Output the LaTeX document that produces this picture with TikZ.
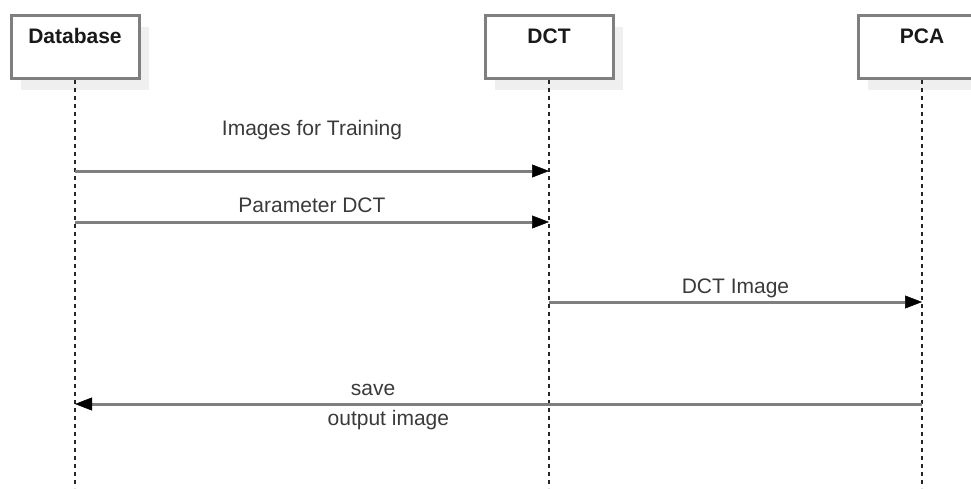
\documentclass[tikz,border=0pt]{standalone}
\usepackage{fontspec}
\setmainfont{Liberation Sans}
\usepackage{tikz}
\usetikzlibrary{arrows.meta,positioning,shadows}
\usepackage{xcolor}
\definecolor{seqline}{HTML}{7F7F7F}
\definecolor{seqshade}{HTML}{EFEFEF}
\definecolor{seqtext}{HTML}{3A3A3A}
\tikzset{
    seqbox/.style={draw=seqline, line width=3pt, fill=white, font=\fontsize{21}{25}\selectfont\bfseries, text=black!90,
        minimum width=128pt, text height=22pt, text depth=30pt, inner xsep=4pt, inner ysep=5.5pt,
        shadow xshift=10pt, shadow yshift=-11pt, general shadow={fill=seqshade, draw=none}},
    seqlife/.style={line width=2pt, color=black!85, dash pattern=on 4pt off 4pt},
    seqarrow/.style={-{Triangle[length=17pt, width=13pt, line width=0.5pt, black]}, line width=3pt, seqline},
    seqnote/.style={font=\fontsize{21}{25}\selectfont, text=seqtext, text height=15pt, text depth=4.5pt, inner sep=0pt}
}

\begin{document}
\begin{tikzpicture}[x=1pt, y=-1pt]
        \useasboundingbox (0,0) rectangle (971,488);

        \node[seqbox, anchor=north] (db) at (75,14) {Database};
        \node[seqbox, anchor=north] (dct) at (549,14) {DCT};
        \node[seqbox, anchor=north] (pca) at (922,14) {PCA};

        % lifelines
        \coordinate (dbend) at (75,488);
        \coordinate (dctend) at (549,488);
        \coordinate (pcaend) at (922,488);
        \draw[seqlife] (db.south) -- (dbend);
        \draw[seqlife] (dct.south) -- (dctend);
        \draw[seqlife] (pca.south) -- (pcaend);

        % messages
        \draw[seqarrow] (dbend |- 0,171) -- node[seqnote, yshift=41pt] (m1) {Images for Training} (dctend |- 0,171);
        \draw[seqarrow] (dbend |- 0,222) -- node[seqnote, yshift=15pt] (m2) {Parameter DCT} (dctend |- 0,222);
        \draw[seqarrow] (dctend |- 0,302) -- node[seqnote, yshift=14pt] (m3) {DCT Image} (pcaend |- 0,302);
        \draw[seqarrow] (pcaend |- 0,404) -- node[seqnote, pos=0.648, yshift=14pt] (m4) {save}
            node[seqnote, pos=0.63, yshift=-16pt] (m5) {output image} (dbend |- 0,404);
    \end{tikzpicture}
\end{document}
